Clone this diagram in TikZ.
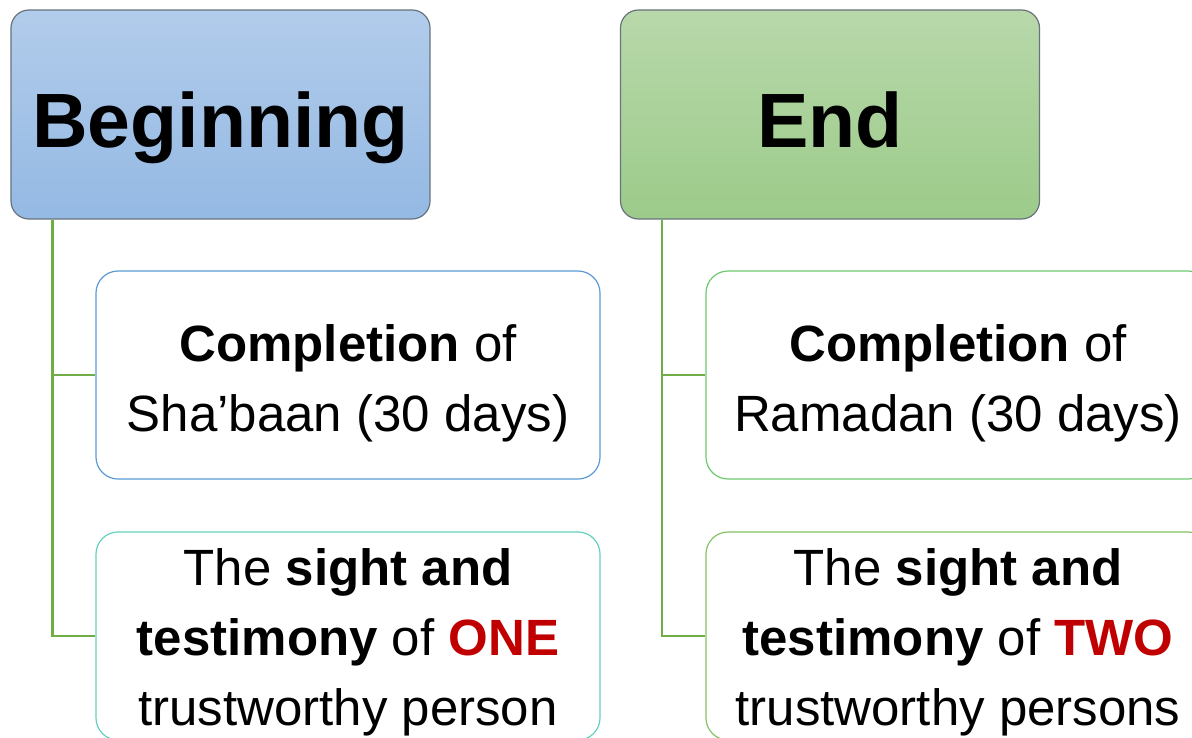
\documentclass[tikz,border=0pt]{standalone}
\usepackage{fontspec}
\setmainfont{Liberation Sans}
\definecolor{begtop}{RGB}{178,204,235}
\definecolor{begbot}{RGB}{148,185,227}
\definecolor{endtop}{RGB}{184,216,170}
\definecolor{endbot}{RGB}{156,203,138}
\definecolor{headborder}{RGB}{105,115,125}
\definecolor{conngreen}{RGB}{112,173,71}
\definecolor{bluebord}{RGB}{91,155,213}
\definecolor{tealbord}{RGB}{100,210,190}
\definecolor{greenbord}{RGB}{110,200,110}
\definecolor{olivebord}{RGB}{135,195,100}
\definecolor{accent}{RGB}{192,0,0}
\begin{document}
\begin{tikzpicture}[x=1bp,y=-1bp,
  headbox/.style={draw=headborder,line width=1.2bp,rounded corners=18bp,minimum width=419bp,minimum height=209bp,inner sep=0pt},
  childbox/.style={draw=#1,line width=1.2bp,rounded corners=22bp,fill=white,minimum width=504bp,minimum height=208bp,inner sep=0pt},
  headtext/.style={font=\fontsize{77bp}{90bp}\selectfont\bfseries,anchor=base,inner sep=0pt},
  bodytext/.style={font=\fontsize{51bp}{70bp}\selectfont,align=center,inner sep=0pt},
  conn/.style={draw=conngreen,line width=2.4bp}]
\useasboundingbox (0,0) rectangle (1192,738);
\clip (0,0) rectangle (1192,738);
\fill[white] (0,0) rectangle (1192,738);
% heading boxes
\node[headbox,top color=begtop,bottom color=begbot] (beg) at (220.5,114.5) {};
\node[headbox,top color=endtop,bottom color=endbot] (fin) at (830,114.5) {};
\node[headtext] (begt) at (220.5,147) {Beginning};
\node[headtext] (fint) at (830,147) {End};
% child boxes
\node[childbox=bluebord] (c1) at (348,375) {};
\node[childbox=tealbord] (c2) at (348,636) {};
\node[childbox=greenbord] (c3) at (958,375) {};
\node[childbox=olivebord] (c4) at (958,636) {};
% connectors
\draw[conn] ([xshift=42bp]beg.south west) |- (c1.west);
\draw[conn] ([xshift=42bp]beg.south west) |- (c2.west);
\draw[conn] ([xshift=42bp]fin.south west) |- (c3.west);
\draw[conn] ([xshift=42bp]fin.south west) |- (c4.west);
% texts
\node[bodytext] (t1) at (348,383.5) {\textbf{Completion} of\\Sha’baan (30 days)};
\node[bodytext] (t2) at (348,642) {The \textbf{sight and}\\\textbf{testimony} of \textcolor{accent}{\textbf{ONE}}\\trustworthy person};
\node[bodytext] (t3) at (958,383.5) {\textbf{Completion} of\\Ramadan (30 days)};
\node[bodytext] (t4) at (958,642) {The \textbf{sight and}\\\textbf{testimony} of \textcolor{accent}{\textbf{TWO}}\\trustworthy persons};
\end{tikzpicture}
\end{document}
